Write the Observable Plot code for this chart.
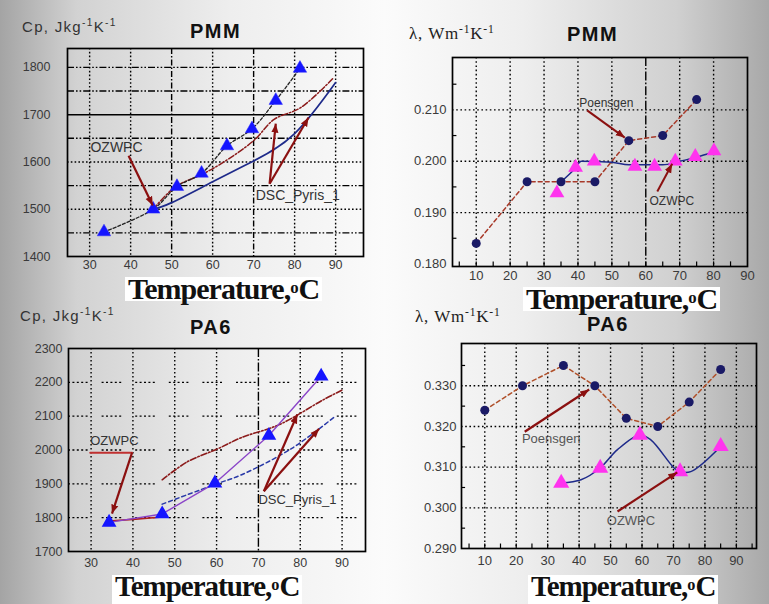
<!DOCTYPE html>
<html><head><meta charset="utf-8">
<script src="https://cdn.jsdelivr.net/npm/d3@7"></script>
<script src="https://cdn.jsdelivr.net/npm/@observablehq/plot@0.6"></script>
<style>
html,body{margin:0;padding:0}
body{width:769px;height:604px;overflow:hidden;position:relative;
 background:linear-gradient(90deg,#a4a4a4 0%,#d2d2d2 10%,#eeeeee 30%,#fbfbfb 50%,#eeeeee 68%,#d0d0d0 88%,#a8a8a8 100%);}
.panel{position:absolute}
.t{position:absolute;white-space:nowrap;line-height:1;z-index:5}
.ylab{font-family:"Liberation Sans",Arial,sans-serif;font-size:15px;color:#333;letter-spacing:1.3px}
.lam{font-family:"Liberation Serif","Times New Roman",serif;font-size:17px;color:#222;letter-spacing:0.8px}
.ttl{font-family:"Liberation Sans",Arial,sans-serif;font-size:20px;font-weight:bold;color:#111;letter-spacing:1.5px}
.xt{font-family:"Liberation Serif","Times New Roman",serif;font-weight:bold;color:#111;background:#fff;padding:0 3px;line-height:0.8;letter-spacing:-1px}
.xt .o{font-size:0.56em;vertical-align:0.38em;line-height:0;letter-spacing:0}
sup{font-size:0.68em;vertical-align:0.55em;line-height:0}
</style></head><body>
<div id="p1" class="panel" style="left:0;top:0"></div>
<div id="p2" class="panel" style="left:384px;top:0"></div>
<div id="p3" class="panel" style="left:0;top:300px"></div>
<div id="p4" class="panel" style="left:384px;top:300px"></div>

<div class="t ylab" style="left:22px;top:19px">Cp, Jkg<sup>-1</sup>K<sup>-1</sup></div>
<div class="t ttl" style="left:190px;top:21px">PMM</div>
<div class="t lam" style="left:409px;top:25px">λ, Wm<sup>-1</sup>K<sup>-1</sup></div>
<div class="t ttl" style="left:567px;top:24px">PMM</div>
<div class="t ylab" style="left:20px;top:308px">Cp, Jkg<sup>-1</sup>K<sup>-1</sup></div>
<div class="t ttl" style="left:190px;top:317px">PA6</div>
<div class="t lam" style="left:415px;top:308px">λ, Wm<sup>-1</sup>K<sup>-1</sup></div>
<div class="t ttl" style="left:587px;top:314px">PA6</div>

<div class="t xt" style="left:125px;top:276.5px;font-size:30px">Temperature,<span class="o">o</span>C</div>
<div class="t xt" style="left:523px;top:287px;font-size:30px">Temperature,<span class="o">o</span>C</div>
<div class="t xt" style="left:112px;top:575px;font-size:29px;padding-bottom:6px">Temperature,<span class="o">o</span>C</div>
<div class="t xt" style="left:528px;top:575px;font-size:29px;padding-bottom:6px">Temperature,<span class="o">o</span>C</div>

<script>
// ---------- Panel 1: PMM, specific heat Cp ----------
const pmmCpT = [33.5, 45.5, 51.3, 57.3, 63.5, 69.6, 75.4, 81.3];
const pmmCpOzwpc = [1452, 1500, 1548, 1576, 1634, 1670, 1730, 1798];
const pmmCpDsc1T = [45.5, 50, 60, 70, 80, 90];
const pmmCpDsc1 = [1500, 1514, 1558, 1602, 1660, 1768];
const pmmCpDsc2T = [45.5, 51, 57, 62, 70, 75, 81.5, 89.5];
const pmmCpDsc2 = [1500, 1548, 1572, 1596, 1645, 1690, 1715, 1778];
const pmmCpLabels = ["OZWPC", "DSC_Pyris_1"];
const pmmCpLabelX = [30.2, 70.5];
const pmmCpLabelY = [1630, 1529];
const pmmCpArrX1 = [39.5, 73.9, 73.9];
const pmmCpArrY1 = [1613, 1554, 1554];
const pmmCpArrX2 = [45.4, 75.4, 83.4];
const pmmCpArrY2 = [1508, 1681, 1694];
const pmmCpXTicks = [30, 40, 50, 60, 70, 80, 90];
const pmmCpYTicks = [1400, 1500, 1600, 1700, 1800];

// ---------- Panel 2: PMM, thermal conductivity ----------
const pmmLamPT = [10, 25, 35, 45, 55, 65, 75];
const pmmLamP = [0.184, 0.196, 0.196, 0.196, 0.204, 0.205, 0.212];
const pmmLamOT = [33.8, 39.3, 44.8, 56.8, 62.6, 68.7, 74.6, 80.1];
const pmmLamO = [0.1938, 0.1988, 0.2000, 0.1990, 0.1990, 0.2000, 0.2009, 0.2020];
const pmmLamFitT = [35, 39, 41, 50, 55, 65, 70, 75, 80];
const pmmLamFit = [0.196, 0.1985, 0.2000, 0.1998, 0.1993, 0.1993, 0.2000, 0.2008, 0.2018];
const pmmLamLabels = ["Poensgen", "OZWPC"];
const pmmLamLabelX = [40.4, 61.1];
const pmmLamLabelY = [0.2114, 0.1923];
const pmmLamArrX1 = [42.7, 63.4];
const pmmLamArrY1 = [0.2099, 0.1941];
const pmmLamArrX2 = [53.8, 67.8];
const pmmLamArrY2 = [0.2046, 0.1995];
const pmmLamXTicks = [10, 20, 30, 40, 50, 60, 70, 80, 90];
const pmmLamYTicks = [0.180, 0.190, 0.200, 0.210];

// ---------- Panel 3: PA6, specific heat Cp ----------
const pa6CpT = [34.3, 47, 59.6, 72.5, 85];
const pa6CpOzwpc = [1786, 1811, 1902, 2043, 2218];
const pa6CpLowT = [34.3, 40, 47];
const pa6CpLow = [1790, 1795, 1802];
const pa6CpDsc1T = [47, 60, 66, 78, 88];
const pa6CpDsc1 = [1840, 1900, 1927, 2005, 2096];
const pa6CpDsc2T = [47, 53, 60, 66, 75, 85.6, 90];
const pa6CpDsc2 = [1912, 1965, 2002, 2037, 2075, 2149, 2177];
const pa6CpLabels = ["OZWPC", "DSC_Pyris_1"];
const pa6CpLabelX = [29.8, 70];
const pa6CpLabelY = [2026, 1853];
const pa6CpArrX1 = [39.8, 71.3, 71.3];
const pa6CpArrY1 = [1992, 1878, 1878];
const pa6CpArrX2 = [35, 79.3, 84.5];
const pa6CpArrY2 = [1812, 2105, 2063];
const pa6CpBarX = [29.8, 39.8];
const pa6CpBarY = [1992, 1992];
const pa6CpXTicks = [30, 40, 50, 60, 70, 80, 90];
const pa6CpYTicks = [1700, 1800, 1900, 2000, 2100, 2200, 2300];

// ---------- Panel 4: PA6, thermal conductivity ----------
const pa6LamPT = [10, 22, 35, 45, 55, 65, 75, 85];
const pa6LamP = [0.324, 0.330, 0.335, 0.330, 0.322, 0.320, 0.326, 0.334];
const pa6LamOT = [34.3, 46.7, 59.3, 72.1, 85];
const pa6LamO = [0.3061, 0.3098, 0.3179, 0.3089, 0.3151];
const pa6LamFitT = [34.3, 40.6, 46.7, 52.2, 59.3, 62.8, 70.2, 72.1, 75.5, 85];
const pa6LamFit = [0.3061, 0.3069, 0.3098, 0.3143, 0.3179, 0.3167, 0.3098, 0.3089, 0.3089, 0.3151];
const pa6LamLabels = ["Poensgen", "OZWPC"];
const pa6LamLabelX = [21.8, 48.8];
const pa6LamLabelY = [0.3169, 0.2969];
const pa6LamArrX1 = [22.7, 52.2];
const pa6LamArrY1 = [0.3187, 0.2991];
const pa6LamArrX2 = [43.2, 71.2];
const pa6LamArrY2 = [0.3291, 0.3087];
const pa6LamXTicks = [10, 20, 30, 40, 50, 60, 70, 80, 90];
const pa6LamYTicks = [0.290, 0.300, 0.310, 0.320, 0.330];

// ---------- helpers ----------
const tbl = (xs, ys) => xs.map((x, i) => ({x, y: ys[i]}));
const arrows = (x1, y1, x2, y2) => x1.map((d, i) => ({x1: d, y1: y1[i], x2: x2[i], y2: y2[i]}));
const labels = (t, xs, ys) => t.map((s, i) => ({t: s, x: xs[i], y: ys[i]}));

function filledArrow(color) {
  const ns = "http://www.w3.org/2000/svg";
  const m = document.createElementNS(ns, "marker");
  m.setAttribute("viewBox", "-10 -5 10 10");
  m.setAttribute("markerWidth", 9);
  m.setAttribute("markerHeight", 9);
  m.setAttribute("markerUnits", "userSpaceOnUse");
  m.setAttribute("orient", "auto");
  m.setAttribute("fill", color);
  m.setAttribute("stroke", "none");
  const p = document.createElementNS(ns, "path");
  p.setAttribute("d", "M-10,-4L0,0L-10,4Z");
  m.appendChild(p);
  return m;
}

const ARROW = "#8b1010";
const DOT = "1.6,2.2";
const DASHDOT = "7,2,1.6,2,1.6,2";

function grid(hList, vList) {
  const out = [];
  for (const [vals, dash] of hList) out.push(Plot.ruleY(vals, {stroke: "#000", strokeWidth: 1.4, strokeDasharray: dash}));
  for (const [vals, dash] of vList) out.push(Plot.ruleX(vals, {stroke: "#000", strokeWidth: 1.4, strokeDasharray: dash}));
  return out;
}

function minorTicks(xVals, yVals, xDom, yDom, lenX, lenY) {
  return [
    Plot.ruleX(xVals, {y1: yDom[0], y2: yDom[0] + lenY, stroke: "#000", strokeWidth: 1.2}),
    Plot.ruleY(yVals, {x1: xDom[0], x2: xDom[0] + lenX, stroke: "#000", strokeWidth: 1.2})
  ];
}

function makePlot(cfg) {
  return Plot.plot({
    width: cfg.width, height: cfg.height,
    marginLeft: cfg.m[0], marginRight: cfg.m[1], marginTop: cfg.m[2], marginBottom: cfg.m[3],
    style: {background: "transparent", overflow: "visible", fontFamily: "Liberation Sans, Arial, sans-serif", fontSize: cfg.fs, color: "#3a3a3a"},
    x: {domain: cfg.xDom, ticks: cfg.xTicks, tickSize: 0, tickPadding: cfg.xPad, label: null, tickFormat: d3.format("d")},
    y: {domain: cfg.yDom, ticks: cfg.yTicks, tickSize: 0, tickPadding: cfg.yPad, label: null, tickFormat: cfg.yFmt},
    marks: [
      ...cfg.grid,
      ...cfg.marks,
      Plot.frame({stroke: "#000", strokeWidth: 1.7})
    ]
  });
}

// ---------- Panel 1 ----------
const p1 = makePlot({
  width: 384, height: 300, m: [67, 21, 48, 44], fs: "12.5px",
  xDom: [24.6, 96.8], yDom: [1400, 1840], xTicks: pmmCpXTicks, yTicks: pmmCpYTicks,
  xPad: 4, yPad: 17, yFmt: d3.format("d"),
  grid: grid(
    [[[1450, 1550, 1650, 1750, 1800], DASHDOT], [[1500, 1600], DOT], [[1700], null]],
    [[[30, 40, 60, 80, 90], DOT], [[50, 70], "6,2,1.5,2"]]
  ),
  marks: [
    Plot.line(tbl(pmmCpDsc1T, pmmCpDsc1), {x: "x", y: "y", curve: "natural", stroke: "#1e2a8a", strokeWidth: 1.7}),
    Plot.line(tbl(pmmCpDsc2T, pmmCpDsc2), {x: "x", y: "y", curve: "catmull-rom", stroke: "#8b1a1a", strokeWidth: 1.5, strokeDasharray: "6,2,1.5,2"}),
    Plot.line(tbl(pmmCpT, pmmCpOzwpc), {x: "x", y: "y", curve: "catmull-rom", stroke: "#222", strokeWidth: 1.3, strokeDasharray: "3,2"}),
    Plot.dot(tbl(pmmCpT, pmmCpOzwpc), {x: "x", y: "y", symbol: "triangle", r: 5, fill: "#1515ff", stroke: "#2a2aff", strokeWidth: 0.5}),
    Plot.link(arrows(pmmCpArrX1, pmmCpArrY1, pmmCpArrX2, pmmCpArrY2), {x1: "x1", y1: "y1", x2: "x2", y2: "y2", stroke: ARROW, strokeWidth: 2.2, markerEnd: filledArrow}),
    Plot.text(labels(pmmCpLabels, pmmCpLabelX, pmmCpLabelY), {x: "x", y: "y", text: "t", textAnchor: "start", fontSize: 14, fill: "#333"})
  ]
});
document.getElementById("p1").append(p1);

// ---------- Panel 2 ----------
const p2Dom = [3, 90], p2YDom = [0.1795, 0.2202];
const p2 = makePlot({
  width: 385, height: 300, m: [68, 22, 57, 34], fs: "13px",
  xDom: p2Dom, yDom: p2YDom, xTicks: pmmLamXTicks, yTicks: pmmLamYTicks,
  xPad: 4, yPad: 6, yFmt: d3.format(".3f"),
  grid: grid(
    [[[0.190, 0.200, 0.210], "1.6,2.6"]],
    [[[10, 20, 30, 40, 50, 70, 80], "1.6,2.6"], [[60], "9,2,1.6,2"]]
  ),
  marks: [
    ...minorTicks([5, 10, 15, 20, 25, 30, 35, 40, 45, 50, 55, 60, 65, 70, 75, 80, 85], [0.185, 0.195, 0.205, 0.215], p2Dom, p2YDom, 1.3, 0.0009),
    Plot.line(tbl(pmmLamPT, pmmLamP), {x: "x", y: "y", stroke: "#a83a2a", strokeWidth: 1.5, strokeDasharray: "4,3"}),
    Plot.line(tbl(pmmLamFitT, pmmLamFit), {x: "x", y: "y", curve: "monotone-x", stroke: "#1e2a8a", strokeWidth: 1.5}),
    Plot.dot(tbl(pmmLamPT, pmmLamP), {x: "x", y: "y", r: 4.5, fill: "#1a1a66"}),
    Plot.dot(tbl(pmmLamOT, pmmLamO), {x: "x", y: "y", symbol: "triangle", r: 5.5, fill: "#ff33ee"}),
    Plot.link(arrows(pmmLamArrX1, pmmLamArrY1, pmmLamArrX2, pmmLamArrY2), {x1: "x1", y1: "y1", x2: "x2", y2: "y2", stroke: ARROW, strokeWidth: 2, markerEnd: filledArrow}),
    Plot.text(labels(pmmLamLabels, pmmLamLabelX, pmmLamLabelY), {x: "x", y: "y", text: "t", textAnchor: "start", fontSize: 12, fill: "#333"})
  ]
});
document.getElementById("p2").append(p2);

// ---------- Panel 3 ----------
const p3 = makePlot({
  width: 384, height: 304, m: [68, 19, 48, 53], fs: "12.5px",
  xDom: [24.6, 95.6], yDom: [1700, 2300], xTicks: pa6CpXTicks, yTicks: pa6CpYTicks,
  xPad: 7, yPad: 6, yFmt: d3.format("d"),
  grid: grid(
    [[[1800, 1900, 2000, 2100, 2200], "2,2.4,2,2.4,2,2.4,2,2.4,2,14"]],
    [[[30, 40, 50, 60, 80, 90], "1.6,2.4"], [[70], "9,2,1.6,2"]]
  ),
  marks: [
    Plot.line(tbl(pa6CpDsc2T, pa6CpDsc2), {x: "x", y: "y", curve: "catmull-rom", stroke: "#8b1a1a", strokeWidth: 1.6, strokeDasharray: "6,2,1.5,2"}),
    Plot.line(tbl(pa6CpDsc1T, pa6CpDsc1), {x: "x", y: "y", curve: "catmull-rom", stroke: "#2a3aa8", strokeWidth: 1.5, strokeDasharray: "4,3"}),
    Plot.line(tbl(pa6CpLowT, pa6CpLow), {x: "x", y: "y", stroke: "#b02020", strokeWidth: 1.6}),
    Plot.line(tbl(pa6CpT, pa6CpOzwpc), {x: "x", y: "y", stroke: "#8a44c8", strokeWidth: 1.4}),
    Plot.dot(tbl(pa6CpT, pa6CpOzwpc), {x: "x", y: "y", symbol: "triangle", r: 5.5, fill: "#1515ff"}),
    Plot.line(tbl(pa6CpBarX, pa6CpBarY), {x: "x", y: "y", stroke: "#c03030", strokeWidth: 2}),
    Plot.link(arrows(pa6CpArrX1, pa6CpArrY1, pa6CpArrX2, pa6CpArrY2), {x1: "x1", y1: "y1", x2: "x2", y2: "y2", stroke: ARROW, strokeWidth: 2.2, markerEnd: filledArrow}),
    Plot.text(labels(pa6CpLabels, pa6CpLabelX, pa6CpLabelY), {x: "x", y: "y", text: "t", textAnchor: "start", fontSize: 13, fill: "#333"})
  ]
});
document.getElementById("p3").append(p3);

// ---------- Panel 4 ----------
const p4Dom = [2.6, 96.4], p4YDom = [0.290, 0.3404];
const p4 = makePlot({
  width: 385, height: 304, m: [77, 13, 43, 56], fs: "13px",
  xDom: p4Dom, yDom: p4YDom, xTicks: pa6LamXTicks, yTicks: pa6LamYTicks,
  xPad: 7, yPad: 5, yFmt: d3.format(".3f"),
  grid: grid(
    [[[0.300, 0.310, 0.320, 0.330], "1.6,2.6"]],
    [[[10, 20, 30, 40, 50, 60, 70, 80, 90], "1.6,2.6"]]
  ),
  marks: [
    ...minorTicks([5, 10, 15, 20, 25, 30, 35, 40, 45, 50, 55, 60, 65, 70, 75, 80, 85, 90, 95], [0.295, 0.305, 0.315, 0.325, 0.335], p4Dom, p4YDom, 1.3, 0.0011),
    Plot.line(tbl(pa6LamPT, pa6LamP), {x: "x", y: "y", stroke: "#b0502a", strokeWidth: 1.5, strokeDasharray: "4,3"}),
    Plot.line(tbl(pa6LamFitT, pa6LamFit), {x: "x", y: "y", curve: "catmull-rom", stroke: "#1e2a8a", strokeWidth: 1.5}),
    Plot.dot(tbl(pa6LamPT, pa6LamP), {x: "x", y: "y", r: 4.5, fill: "#1a1a66"}),
    Plot.dot(tbl(pa6LamOT, pa6LamO), {x: "x", y: "y", symbol: "triangle", r: 6, fill: "#ff33ee"}),
    Plot.link(arrows(pa6LamArrX1, pa6LamArrY1, pa6LamArrX2, pa6LamArrY2), {x1: "x1", y1: "y1", x2: "x2", y2: "y2", stroke: ARROW, strokeWidth: 2.2, markerEnd: filledArrow}),
    Plot.text(labels(pa6LamLabels, pa6LamLabelX, pa6LamLabelY), {x: "x", y: "y", text: "t", textAnchor: "start", fontSize: 13, fill: "#555"})
  ]
});
document.getElementById("p4").append(p4);
</script>
</body></html>
